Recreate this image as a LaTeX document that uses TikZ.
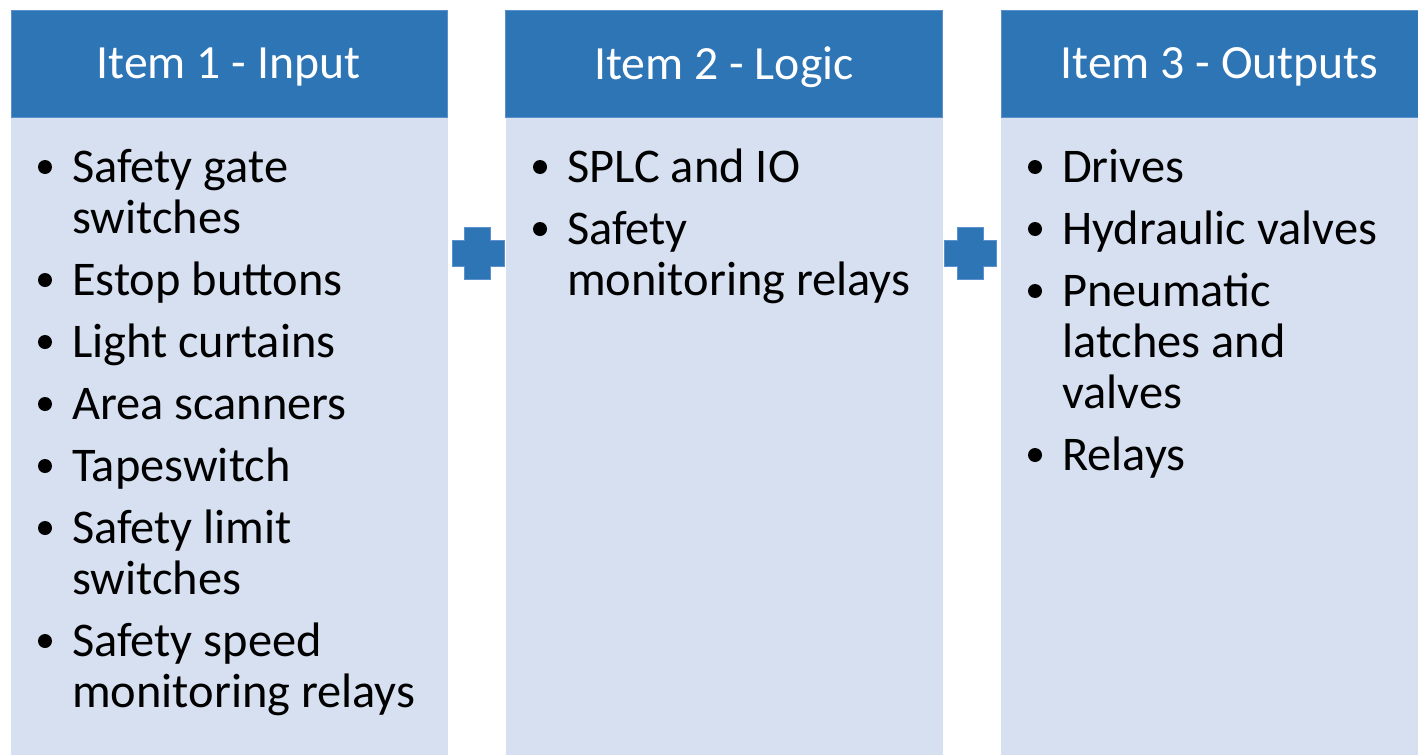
\documentclass[tikz,border=0pt]{standalone}
\usepackage{fontspec}
\setmainfont{Carlito}
\definecolor{hdrblue}{RGB}{46,117,182}
\definecolor{hdredge}{RGB}{90,145,205}
\definecolor{bodyblue}{RGB}{214,224,240}
\tikzset{
  hdr/.style={fill=hdrblue, draw=hdredge, line width=1pt},
  hdrtext/.style={text=white, font=\fontsize{47.7}{57}\selectfont, inner sep=0pt},
  itemtext/.style={anchor=base west, inner sep=0pt, text=black, font=\fontsize{48.4}{53}\selectfont},
  bul/.style={circle, fill=black, minimum size=14pt, inner sep=0pt},
  plusbar/.style={fill=hdrblue, draw=hdredge, line width=0.8pt}
}
\begin{document}
\begin{tikzpicture}[x=1pt,y=-1pt]
\useasboundingbox (0,0) rectangle (1418,755);
\fill[white] (0,0) rectangle (1418,755);
% column bodies
\fill[bodyblue] (11,117) rectangle (447.5,755);
\fill[bodyblue] (505.5,117) rectangle (942.5,755);
\fill[bodyblue] (1001,117) rectangle (1438,755);
% headers
\draw[hdr] (11,10) rectangle (447.5,117);
\draw[hdr] (505.5,10) rectangle (942.5,117);
\draw[hdr] (1001,10) rectangle (1438,117);
\node[hdrtext] (h1) at (228.5,67) {Item 1 - Input};
\node[hdrtext] (h2) at (724,67) {Item 2 - Logic};
\node[hdrtext] (h3) at (1219.5,67) {Item 3 - Outputs};
% plus signs
\path[plusbar] (452,240.5) -- (464.5,240.5) -- (464.5,227) -- (490.5,227) -- (490.5,240.5) -- (504,240.5) -- (504,266) -- (490.5,266) -- (490.5,279) -- (464.5,279) -- (464.5,266) -- (452,266) -- cycle;
\path[plusbar] (944.5,240.5) -- (957.5,240.5) -- (957.5,227) -- (983.5,227) -- (983.5,240.5) -- (996.5,240.5) -- (996.5,266) -- (983.5,266) -- (983.5,279) -- (957.5,279) -- (957.5,266) -- (944.5,266) -- cycle;
% column 1
\node[bul] (b11) at (45,167) {};
\node[itemtext] (t11a) at (72,182) {Safety gate};
\node[itemtext] (t11b) at (72,233) {switches};
\node[bul] (b12) at (45,280) {};
\node[itemtext] (t12) at (72,295) {Estop buttons};
\node[bul] (b13) at (45,342) {};
\node[itemtext] (t13) at (72,357) {Light curtains};
\node[bul] (b14) at (45,404) {};
\node[itemtext] (t14) at (72,419) {Area scanners};
\node[bul] (b15) at (45,466) {};
\node[itemtext] (t15) at (72,481) {Tapeswitch};
\node[bul] (b16) at (45,528) {};
\node[itemtext] (t16a) at (72,543) {Safety limit};
\node[itemtext] (t16b) at (72,594) {switches};
\node[bul] (b17) at (45,641) {};
\node[itemtext] (t17a) at (72,656) {Safety speed};
\node[itemtext] (t17b) at (72,707) {monitoring relays};
% column 2
\node[bul] (b21) at (540,167) {};
\node[itemtext] (t21) at (567,182) {SPLC and IO};
\node[bul] (b22) at (540,229) {};
\node[itemtext] (t22a) at (567,244) {Safety};
\node[itemtext] (t22b) at (567,295) {monitoring relays};
% column 3
\node[bul] (b31) at (1035,167) {};
\node[itemtext] (t31) at (1062,182) {Drives};
\node[bul] (b32) at (1035,229) {};
\node[itemtext] (t32) at (1062,244) {Hydraulic valves};
\node[bul] (b33) at (1035,291) {};
\node[itemtext] (t33a) at (1062,306) {Pneumatic};
\node[itemtext] (t33b) at (1062,357) {latches and};
\node[itemtext] (t33c) at (1062,408) {valves};
\node[bul] (b34) at (1035,455) {};
\node[itemtext] (t34) at (1062,470) {Relays};
\end{tikzpicture}
\end{document}
